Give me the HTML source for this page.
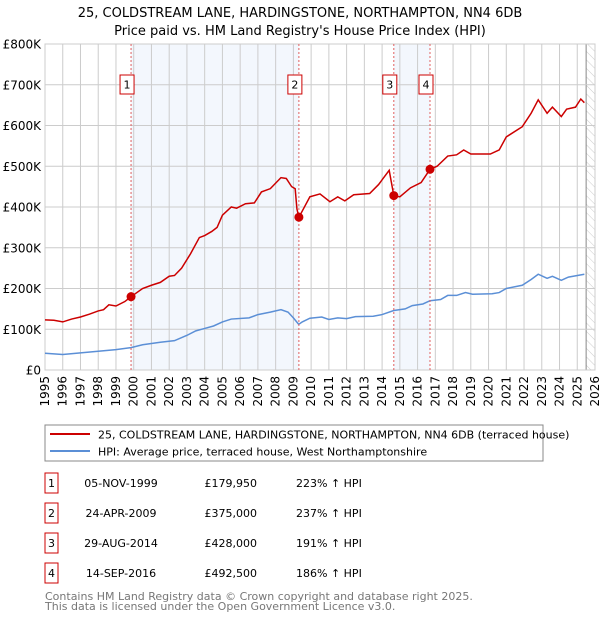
<!DOCTYPE html>
<html><head><meta charset="utf-8"><style>
body{margin:0;background:#fff;font-family:"DejaVu Sans","Liberation Sans",sans-serif;}
svg text{font-family:"DejaVu Sans","Liberation Sans",sans-serif;}
</style></head><body>
<svg id="chart" width="600" height="620" xmlns="http://www.w3.org/2000/svg">
<defs><pattern id="hatch" width="6" height="6" patternUnits="userSpaceOnUse" patternTransform="rotate(-45)"><line x1="0" y1="0" x2="0" y2="6" stroke="#ccc" stroke-width="1"/></pattern></defs>
<text x="300" y="17" text-anchor="middle" font-size="13">25, COLDSTREAM LANE, HARDINGSTONE, NORTHAMPTON, NN4 6DB</text>
<text x="300" y="35" text-anchor="middle" font-size="13">Price paid vs. HM Land Registry's House Price Index (HPI)</text>
<g id="plot"></g>
<rect x="45" y="425" width="498" height="36" fill="#fff" stroke="#888"/>
<line x1="50" y1="434" x2="90" y2="434" stroke="#cc0000" stroke-width="2"/>
<text x="98" y="438.5" font-size="11">25, COLDSTREAM LANE, HARDINGSTONE, NORTHAMPTON, NN4 6DB (terraced house)</text>
<line x1="50" y1="451" x2="90" y2="451" stroke="#5b8fd6" stroke-width="2"/>
<text x="98" y="455.5" font-size="11">HPI: Average price, terraced house, West Northamptonshire</text>
<g id="table"></g>
<text x="45" y="600" font-size="11" fill="#777">Contains HM Land Registry data © Crown copyright and database right 2025.</text>
<text x="45" y="610" font-size="11" fill="#777">This data is licensed under the Open Government Licence v3.0.</text>
</svg>
<script>
const priceYears=[1995,1995.5,1996,1996.5,1997,1997.5,1998,1998.3,1998.6,1999,1999.5,1999.85,2000.5,2001,2001.5,2002,2002.3,2002.7,2003.2,2003.7,2004,2004.4,2004.7,2005,2005.5,2005.8,2006.3,2006.8,2007.2,2007.7,2008.3,2008.6,2008.9,2009.1,2009.2,2009.31,2009.5,2009.93,2010.5,2011.06,2011.5,2011.9,2012.4,2013.3,2013.8,2014.4,2014.66,2015.0,2015.6,2016.2,2016.7,2017.1,2017.7,2018.2,2018.6,2019.0,2020.1,2020.6,2021.0,2021.9,2022.4,2022.8,2023.3,2023.6,2024.1,2024.4,2024.9,2025.2,2025.4];
const priceValues=[123,122,118,125,130,137,145,148,160,157,168,179.95,200,208,215,230,232,250,285,325,330,340,350,380,400,397,408,410,437,445,472,470,450,445,395,375,390,425,432,413,425,415,430,433,455,490,428,425,447,460,492.5,500,525,528,540,530,530,540,572,597,630,663,630,645,622,640,645,665,656];
const hpiYears=[1995,1996,1997,1998,1999,1999.85,2000.5,2001.5,2002.3,2003,2003.5,2004,2004.5,2005,2005.5,2006.5,2007,2007.7,2008.3,2008.7,2009.0,2009.3,2009.5,2009.93,2010.6,2011.0,2011.5,2012,2012.5,2013.5,2014,2014.66,2015.3,2015.7,2016.3,2016.7,2017.3,2017.7,2018.2,2018.7,2019.1,2020.2,2020.6,2021,2021.9,2022.4,2022.8,2023.3,2023.6,2024.1,2024.5,2025.4];
const hpiValues=[41,38,42,46,50,55,62,68,72,85,96,102,108,118,125,128,136,142,148,142,128,112,118,127,130,124,128,126,131,132,136,146,150,158,162,170,173,183,183,190,186,187,190,200,208,222,235,225,230,220,228,235];
const saleLabels=["1","2","3","4"];
const saleYears=[1999.85,2009.31,2014.66,2016.7];
const saleValues=[179.95,375,428,492.5];
const saleDates=["05-NOV-1999","24-APR-2009","29-AUG-2014","14-SEP-2016"];
const salePrices=["£179,950","£375,000","£428,000","£492,500"];
const salePcts=["223% ↑ HPI","237% ↑ HPI","191% ↑ HPI","186% ↑ HPI"];
const yTicks=[0,100,200,300,400,500,600,700,800];
const yTickLabels=["£0","£100K","£200K","£300K","£400K","£500K","£600K","£700K","£800K"];
const xTicks=[1995,1996,1997,1998,1999,2000,2001,2002,2003,2004,2005,2006,2007,2008,2009,2010,2011,2012,2013,2014,2015,2016,2017,2018,2019,2020,2021,2022,2023,2024,2025,2026];

const NS="http://www.w3.org/2000/svg";
const X0=45,X1=595,Y0=370,Y1=44;
const xs=y=>X0+(y-1995)/(2026-1995)*(X1-X0);
const ys=v=>Y0-v/800*(Y0-Y1);
const plot=document.getElementById('plot');
function mk(tag,attrs,parent){const e=document.createElementNS(NS,tag);for(const k in attrs)e.setAttribute(k,attrs[k]);(parent||plot).appendChild(e);return e;}
mk('rect',{x:X0,y:Y1,width:X1-X0,height:Y0-Y1,fill:'#fff',stroke:'#ccc'});
let b=mk('rect',{x:xs(saleYears[0]),y:Y1,width:xs(saleYears[1])-xs(saleYears[0]),height:Y0-Y1,fill:'#eef3fc',opacity:0.7});


b=mk('rect',{x:xs(saleYears[2]),y:Y1,width:xs(saleYears[3])-xs(saleYears[2]),height:Y0-Y1,fill:'#eef3fc',opacity:0.7});


const hx=xs(2025.5);
b=mk('rect',{x:hx,y:Y1,width:X1-hx,height:Y0-Y1,fill:'url(#hatch)'});


mk('line',{x1:hx,y1:Y1,x2:hx,y2:Y0,stroke:'#888','stroke-width':1});
xTicks.forEach(t=>{
  mk('line',{x1:xs(t),y1:Y1,x2:xs(t),y2:Y0,stroke:'#ccc','stroke-width':1});
  const tx=mk('text',{x:0,y:0,'font-size':12,'text-anchor':'end',transform:`translate(${xs(t)+4},${Y0+6}) rotate(-90)`});
  tx.textContent=t;
  
  
});
yTicks.forEach((t,i)=>{
  mk('line',{x1:X0,y1:ys(t),x2:X1,y2:ys(t),stroke:'#ccc','stroke-width':1});
  const tx=mk('text',{x:X0-4,y:ys(t)+4.5,'font-size':12,'text-anchor':'end'});
  tx.textContent=yTickLabels[i];
  
  
});
const hp=mk('polyline',{points:hpiYears.map((y,i)=>xs(y)+','+ys(hpiValues[i])).join(' '),fill:'none',stroke:'#5b8fd6','stroke-width':1.5});


const pp=mk('polyline',{points:priceYears.map((y,i)=>xs(y)+','+ys(priceValues[i])).join(' '),fill:'none',stroke:'#cc0000','stroke-width':1.5});


saleYears.forEach((y,i)=>{
  const x=xs(y);
  mk('line',{x1:x,y1:Y1,x2:x,y2:Y0,stroke:'#e06060','stroke-width':1,'stroke-dasharray':'2,2'});
  const c=mk('circle',{cx:x,cy:ys(saleValues[i]),r:4.5,fill:'#cc0000'});
  
  
  const bx=mk('rect',{x:x-11,y:75,width:14,height:19,fill:'#fff',stroke:'#cc0000'});
  
  
  const t=mk('text',{x:x-4,y:88.5,'font-size':11,'text-anchor':'middle'});
  t.textContent=saleLabels[i];
});
const tbl=document.getElementById('table');
saleLabels.forEach((l,i)=>{
  const cy=483+i*30;
  const r=mk('rect',{x:45,y:cy-10,width:13,height:20,fill:'#fff',stroke:'#cc0000'},tbl);
  
  
  let t=mk('text',{x:51.5,y:cy+4,'font-size':11,'text-anchor':'middle'},tbl);t.textContent=l;
  t=mk('text',{x:121,y:cy+4,'font-size':11,'text-anchor':'middle'},tbl);t.textContent=saleDates[i];
  
  
  t=mk('text',{x:257,y:cy+4,'font-size':11,'text-anchor':'end'},tbl);t.textContent=salePrices[i];
  
  
  t=mk('text',{x:296,y:cy+4,'font-size':11},tbl);t.textContent=salePcts[i];
  
  
});
</script>
</body></html>
